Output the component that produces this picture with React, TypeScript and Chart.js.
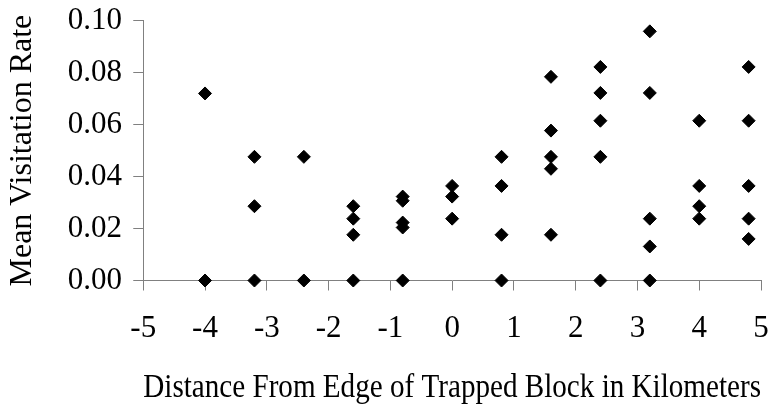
import React, { useEffect, useRef } from "react";
import { Chart, registerables } from "chart.js";

Chart.register(...registerables);

const xTickValues = [-5, -4, -3, -2, -1, 0, 1, 2, 3, 4, 5];
const yTickValues = [0, 0.02, 0.04, 0.06, 0.08, 0.1];

const distances = [-4, -3.2, -2.4, -1.6, -0.8, 0, 0.8, 1.6, 2.4, 3.2, 4, 4.8];

const ratesAtMinus4 = [0.072, 0];
const ratesAtMinus32 = [0.0476, 0.0286, 0];
const ratesAtMinus24 = [0.0476, 0];
const ratesAtMinus16 = [0.0286, 0.0238, 0.0176, 0];
const ratesAtMinus08 = [0.0323, 0.0307, 0.0223, 0.0204, 0];
const ratesAt0 = [0.0364, 0.0323, 0.0238];
const ratesAt08 = [0.0476, 0.0364, 0.0176, 0];
const ratesAt16 = [0.0784, 0.0577, 0.0476, 0.043, 0.0176];
const ratesAt24 = [0.0822, 0.0722, 0.0615, 0.0476, 0];
const ratesAt32 = [0.0959, 0.0722, 0.0238, 0.0131, 0];
const ratesAt40 = [0.0615, 0.0364, 0.0286, 0.0238];
const ratesAt48 = [0.0822, 0.0615, 0.0364, 0.0238, 0.016];

const rateGroups = [
  ratesAtMinus4,
  ratesAtMinus32,
  ratesAtMinus24,
  ratesAtMinus16,
  ratesAtMinus08,
  ratesAt0,
  ratesAt08,
  ratesAt16,
  ratesAt24,
  ratesAt32,
  ratesAt40,
  ratesAt48,
];

const xTitle = "Distance From Edge of Trapped Block in Kilometers";
const yTitle = "Mean Visitation Rate";

export default function App() {
  const canvasRef = useRef<HTMLCanvasElement | null>(null);

  useEffect(() => {
    if (!canvasRef.current) return;
    const points: { x: number; y: number }[] = [];
    distances.forEach((d, i) => {
      rateGroups[i].forEach((r) => points.push({ x: d, y: r }));
    });
    const font = "'Liberation Serif', 'Times New Roman', serif";
    const axisColor = "#808080";
    const zeroPadding = (scale: any) => {
      scale.paddingTop = 0;
      scale.paddingBottom = 0;
      scale.paddingLeft = 0;
      scale.paddingRight = 0;
    };
    const chart = new Chart(canvasRef.current, {
      type: "scatter",
      data: {
        datasets: [
          {
            data: points,
            pointStyle: "rectRot",
            pointRadius: 6.5,
            pointHoverRadius: 6.5,
            borderWidth: 1,
            backgroundColor: "#000000",
            borderColor: "#000000",
            clip: false as any,
          },
        ],
      },
      options: {
        responsive: false,
        animation: false,
        layout: { padding: { top: 20.7, right: 17, left: 0, bottom: 0 } },
        plugins: {
          legend: { display: false },
          tooltip: { enabled: false },
        },
        scales: {
          x: {
            type: "linear",
            min: -5,
            max: 5,
            afterBuildTicks: (axis: any) => {
              axis.ticks = xTickValues.map((v) => ({ value: v }));
            },
            afterFit: zeroPadding,
            grid: {
              display: true,
              drawOnChartArea: false,
              drawTicks: true,
              tickLength: 10,
              tickColor: axisColor,
            },
            border: { display: true, color: axisColor, width: 1 },
            ticks: {
              color: "#000000",
              padding: 20.2,
              maxRotation: 0,
              font: { family: font, size: 31, lineHeight: 1.2 },
              callback: (v: any) => String(v),
            },
            title: {
              display: true,
              text: xTitle,
              color: "#000000",
              font: { family: font, size: 33, lineHeight: 1.2 },
              padding: { top: 0, bottom: 0.3 },
            },
          },
          y: {
            type: "linear",
            min: 0,
            max: 0.1,
            afterBuildTicks: (axis: any) => {
              axis.ticks = yTickValues.map((v) => ({ value: v }));
            },
            afterFit: zeroPadding,
            grid: {
              display: true,
              drawOnChartArea: false,
              drawTicks: true,
              tickLength: 10,
              tickColor: axisColor,
            },
            border: { display: true, color: axisColor, width: 1 },
            ticks: {
              color: "#000000",
              padding: 11.3,
              font: { family: font, size: 31, lineHeight: 1.2 },
              callback: (v: any) => Number(v).toFixed(2),
            },
            title: {
              display: true,
              text: yTitle,
              color: "#000000",
              font: { family: font, size: 32, lineHeight: 1.2 },
              padding: { top: 3, bottom: 15 },
            },
          },
        },
      },
    });
    return () => chart.destroy();
  }, []);

  return (
    <div style={{ position: "absolute", left: 0, top: 0, width: 778, height: 408 }}>
      <canvas ref={canvasRef} width={778} height={408} style={{ display: "block" }} />
    </div>
  );
}
